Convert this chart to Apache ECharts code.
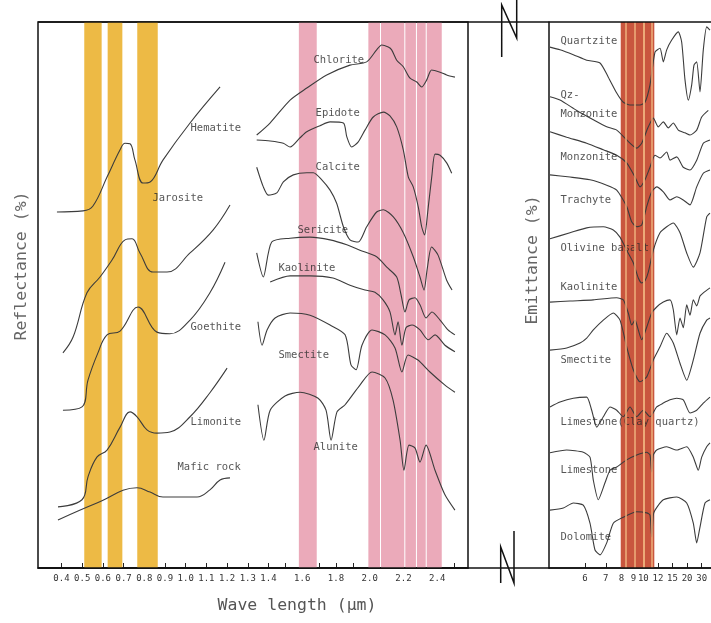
<!DOCTYPE html>
<html><head><meta charset="utf-8">
<script src="https://cdn.jsdelivr.net/npm/echarts@6/dist/echarts.min.js"></script>
<style>html,body{margin:0;padding:0;background:#fff}#c{width:711px;height:623px}</style>
</head><body><div id="c"></div>
<script>
// ---- axis ticks (µm) ----
const reflTickWl = [0.4,0.5,0.6,0.7,0.8,0.9,1.0,1.1,1.2,1.3,1.4,1.5,1.6,1.7,1.8,1.9,2.0,2.1,2.2,2.3,2.4,2.5];
const reflLabelWl = [0.4,0.5,0.6,0.7,0.8,0.9,1.0,1.1,1.2,1.3,1.4,1.6,1.8,2.0,2.2,2.4];
const emitTickWl = [6,7,8,9,10,12,15,20,30];

// ---- sensor bands (µm) ----
const yellowBands = [[0.510,0.594],[0.623,0.694],[0.766,0.865]];
const pinkBands = [[1.58,1.686],[1.992,2.061],[2.067,2.205],[2.211,2.274],[2.280,2.332],[2.338,2.427]];
const redBand = [7.95,11.44];
const redStripes = [8.35,8.97,9.64,10.40,11.06];

// ---- reflectance curves [wavelength µm, relative reflectance] ----
const hematite = [[0.378,65.2],[0.504,65.4],[0.552,66.3],[0.620,71.6],[0.683,76.6],[0.707,77.8],[0.731,77.7],[0.755,74.7],[0.794,70.5],[0.828,70.7],[0.890,74.7],[1.021,81.5],[1.166,88.1]];
const jarosite = [[0.407,39.4],[0.456,42.3],[0.523,50.4],[0.586,53.3],[0.644,56.4],[0.707,60.1],[0.741,60.3],[0.779,57.7],[0.842,54.2],[0.910,54.2],[1.021,57.7],[1.132,61.9],[1.214,66.5]];
const goethite = [[0.407,28.9],[0.499,29.5],[0.528,34.4],[0.576,39.4],[0.620,42.7],[0.683,43.4],[0.770,47.8],[0.861,43.2],[0.924,42.9],[1.021,45.4],[1.117,50.4],[1.190,56.0]];
const limonite = [[0.383,11.2],[0.499,12.5],[0.528,16.7],[0.571,20.3],[0.620,21.6],[0.683,25.8],[0.731,28.6],[0.765,27.7],[0.813,25.3],[0.861,24.7],[0.924,24.9],[1.021,27.7],[1.117,32.1],[1.200,36.6]];
const maficRock = [[0.383,8.8],[0.571,11.9],[0.765,14.7],[0.828,13.9],[0.890,13.0],[1.055,13.0],[1.117,14.3],[1.166,16.1],[1.214,16.5]];
const chlorite = [[1.343,79.3],[1.409,81.5],[1.528,85.7],[1.627,87.9],[1.745,90.3],[1.883,92.1],[1.982,92.7],[2.041,94.9],[2.071,95.8],[2.110,95.4],[2.130,94.9],[2.160,93.0],[2.199,91.8],[2.239,89.7],[2.279,89.0],[2.308,88.1],[2.338,89.4],[2.367,91.2],[2.417,90.8],[2.456,90.3],[2.505,89.9]];
const epidote = [[1.343,78.4],[1.410,78.2],[1.488,77.8],[1.528,77.1],[1.587,78.8],[1.627,79.9],[1.705,81.0],[1.765,81.7],[1.844,81.5],[1.864,79.0],[1.893,77.1],[1.931,78.0],[1.972,80.2],[2.021,82.6],[2.081,83.5],[2.120,82.8],[2.160,80.8],[2.199,76.6],[2.229,71.6],[2.258,69.8],[2.288,66.1],[2.308,62.5],[2.325,61.0],[2.347,66.1],[2.369,72.0],[2.387,75.8],[2.417,75.6],[2.456,74.2],[2.486,72.3]];
const calcite = [[1.343,73.4],[1.375,69.8],[1.399,68.3],[1.449,68.7],[1.488,70.7],[1.547,72.0],[1.627,72.4],[1.666,72.4],[1.716,71.1],[1.765,69.2],[1.804,66.8],[1.844,62.5],[1.883,60.1],[1.932,59.7],[1.982,62.5],[2.041,65.2],[2.081,65.6],[2.140,64.3],[2.199,61.4],[2.258,57.0],[2.298,53.3],[2.322,50.9],[2.340,54.6],[2.367,58.8],[2.405,57.3],[2.456,52.7],[2.488,50.9]];
const sericite = [[1.343,57.7],[1.375,53.3],[1.419,59.7],[1.528,60.4],[1.646,60.6],[1.765,60.1],[1.864,59.2],[1.942,58.2],[2.041,57.0],[2.101,55.1],[2.160,53.3],[2.186,50.0],[2.209,46.9],[2.233,49.1],[2.268,49.5],[2.298,48.2],[2.334,45.8],[2.369,46.9],[2.417,45.4],[2.464,43.6],[2.505,42.7]];
const kaoliniteSwir = [[1.410,52.4],[1.528,53.5],[1.646,53.5],[1.782,53.1],[1.883,51.8],[1.972,50.9],[2.031,50.5],[2.079,49.1],[2.120,46.9],[2.150,42.7],[2.168,45.1],[2.191,40.8],[2.215,44.0],[2.251,44.5],[2.298,43.6],[2.347,41.8],[2.387,42.7],[2.446,40.8],[2.505,39.6]];
const smectiteSwir = [[1.349,45.1],[1.369,40.8],[1.393,43.6],[1.439,45.8],[1.528,46.7],[1.646,46.3],[1.765,44.5],[1.854,42.7],[1.889,37.2],[1.919,36.3],[1.954,40.8],[2.014,43.6],[2.091,42.7],[2.150,40.3],[2.191,35.9],[2.227,39.0],[2.286,38.1],[2.357,35.9],[2.446,33.5],[2.505,32.2]];
const alunite = [[1.349,29.9],[1.378,23.4],[1.410,28.9],[1.498,31.5],[1.587,32.2],[1.694,31.1],[1.741,28.9],[1.771,23.4],[1.806,28.6],[1.854,29.9],[1.942,33.5],[2.014,35.9],[2.091,34.8],[2.138,30.8],[2.180,23.4],[2.203,17.9],[2.233,22.5],[2.268,22.0],[2.298,19.4],[2.334,22.5],[2.387,17.9],[2.446,13.4],[2.505,10.6]];

// ---- emittance curves [wavelength µm, relative emittance] ----
const quartzite = [[4.840,95.4],[5.123,94.9],[5.556,94.0],[6.072,93.0],[6.690,92.5],[7.143,89.9],[7.669,87.0],[8.140,85.3],[8.681,84.8],[9.637,84.8],[10.198,85.3],[10.829,88.5],[11.544,94.5],[12.359,95.2],[12.963,92.7],[13.651,94.9],[14.805,96.7],[16.667,98.2],[17.821,96.3],[19.105,89.4],[20.588,85.7],[22.379,88.5],[23.777,92.1],[25.660,92.7],[28.409,87.2],[31.818,94.9],[36.307,99.1],[42.067,98.5]];
const qzMonzonite = [[4.840,86.3],[5.123,85.7],[5.678,83.8],[6.364,82.1],[7.051,80.8],[7.669,80.2],[8.405,78.4],[9.299,76.9],[9.820,77.8],[10.606,80.8],[11.290,82.4],[12.069,80.8],[12.963,81.7],[14.0,80.6],[15.217,81.5],[16.667,80.2],[19.105,79.7],[21.446,79.3],[25.660,80.2],[30.069,82.6],[38.889,83.8]];
const monzonite = [[4.840,79.9],[5.332,78.9],[6.072,77.8],[6.863,76.6],[7.669,75.6],[8.405,74.2],[9.134,71.6],[9.637,69.8],[10.198,71.1],[10.829,73.4],[11.544,75.6],[12.359,75.1],[13.651,76.2],[14.391,74.7],[16.174,75.3],[18.421,73.4],[21.446,72.9],[25.660,74.7],[31.818,77.8],[42.067,78.4]];
const trachyte = [[4.840,72.0],[5.442,71.6],[6.214,71.1],[7.051,70.1],[7.669,69.2],[8.405,66.2],[8.829,63.4],[9.299,62.5],[9.820,62.8],[10.404,66.2],[11.062,68.9],[11.808,69.8],[12.963,68.9],[14.391,67.4],[16.174,68.0],[18.421,67.4],[21.446,66.5],[25.660,69.8],[31.818,72.3],[42.067,72.9]];
const olivineBasalt = [[4.840,60.3],[5.442,61.4],[6.072,62.3],[6.863,62.5],[7.447,61.9],[7.897,60.6],[8.405,58.2],[8.974,55.9],[9.459,53.1],[9.820,52.2],[10.198,52.6],[10.606,54.2],[11.290,58.2],[12.359,61.4],[13.651,62.5],[15.217,63.2],[17.224,61.4],[19.841,57.7],[23.333,55.1],[28.409,57.7],[36.307,64.3],[42.067,65.0]];
const kaoliniteTir = [[4.840,48.7],[5.442,48.9],[6.364,49.1],[7.669,49.5],[8.140,49.1],[8.537,46.7],[8.829,44.5],[9.134,45.4],[9.459,43.6],[9.820,41.8],[10.404,44.1],[11.062,46.7],[11.808,47.8],[12.963,48.7],[14.391,49.1],[15.217,47.3],[16.174,42.7],[17.224,45.8],[18.421,44.0],[19.841,48.2],[21.446,46.3],[23.333,49.1],[25.660,48.0],[28.409,49.8],[31.818,50.4],[42.067,51.3]];
const smectiteTir = [[4.840,39.9],[5.332,40.3],[5.802,41.2],[6.072,42.1],[6.364,43.6],[6.863,45.4],[7.447,46.7],[7.897,45.4],[8.405,40.5],[8.974,36.3],[9.637,34.1],[10.404,35.0],[11.290,38.1],[12.359,40.5],[13.651,43.0],[15.217,41.2],[17.224,37.5],[19.841,34.4],[23.333,38.1],[28.409,43.0],[36.307,45.4],[42.067,45.8]];
const limestoneClayQuartz = [[4.840,29.5],[5.123,30.4],[5.556,31.1],[6.072,31.3],[6.290,28.9],[6.525,25.8],[6.863,27.7],[7.243,29.5],[7.669,28.9],[8.140,27.7],[8.681,29.5],[9.299,27.7],[10.0,28.9],[10.829,27.7],[11.808,29.5],[12.963,30.2],[14.391,30.8],[16.174,31.1],[18.421,30.8],[21.446,28.4],[25.660,28.9],[31.818,30.2],[42.067,31.3]];
const limestone = [[4.840,21.1],[5.332,21.6],[5.932,21.2],[6.214,20.3],[6.364,16.1],[6.604,12.5],[6.955,15.6],[7.243,17.9],[7.669,18.5],[8.405,19.8],[9.299,20.7],[10.404,21.2],[10.829,20.7],[11.062,17.6],[11.290,20.7],[11.808,21.6],[13.651,22.2],[16.174,21.6],[19.841,22.2],[23.333,20.3],[26.923,17.9],[30.069,20.3],[36.307,22.2],[42.067,22.9]];
const dolomite = [[4.840,10.6],[5.224,11.0],[5.556,11.9],[5.932,11.5],[6.214,8.2],[6.443,3.3],[6.690,2.4],[7.051,4.6],[7.447,8.2],[8.140,9.3],[9.299,10.3],[10.404,10.1],[10.829,9.7],[11.062,5.7],[11.290,9.7],[11.544,10.6],[12.963,12.5],[16.174,13.0],[19.841,11.9],[23.333,8.2],[25.660,4.6],[28.409,7.5],[33.915,11.9],[42.067,12.5]];

// ---- curve names and label anchors [name, wavelength, value] ----
const reflLabels = [["Hematite",1.021,80.6],["Jarosite",0.837,67.8],["Goethite",1.021,44.1],["Limonite",1.021,26.6],["Mafic rock",0.958,18.5],
  ["Chlorite",1.664,93.0],["Epidote",1.676,83.3],["Calcite",1.676,73.4],["Sericite",1.569,61.9],["Kaolinite",1.456,54.9],["Smectite",1.456,39.0],["Alunite",1.664,22.2]];
const emitLabels = [["Quartzite",5.123,96.5],["Qz-\nMonzonite",5.123,84.9],["Monzonite",5.123,75.3],["Trachyte",5.123,67.4],["Olivine basalt",5.123,58.6],
  ["Kaolinite",5.123,51.5],["Smectite",5.123,38.1],["Limestone(Clay quartz)",5.123,26.6],["Limestone",5.123,17.9],["Dolomite",5.123,5.7]];

const reflCurves = [hematite,jarosite,goethite,limonite,maficRock,chlorite,epidote,calcite,sericite,kaoliniteSwir,smectiteSwir,alunite];
const emitCurves = [quartzite,qzMonzonite,monzonite,trachyte,olivineBasalt,kaoliniteTir,smectiteTir,limestoneClayQuartz,limestone,dolomite];

// piecewise wavelength scale of the reflectance panel (SWIR part compressed)
const K = 0.815;
function reflAxis(w){ return w <= 1.4 ? w : 1.4 + (w - 1.4) * K; }
function reflWl(t){ return t <= 1.4001 ? t : 1.4 + (t - 1.4) / K; }
// emittance panel is linear in wavenumber
function emitAxis(w){ return 1 / w; }

const LINE = '#3c3c3c';
const FONT = 'DejaVu Sans Mono';
const series = [];

series.push({type:'line', xAxisIndex:0, yAxisIndex:0, data:[], z:1, silent:true,
  markArea:{silent:true, itemStyle:{color:'#EDBA45'}, data: yellowBands.map(b=>[{xAxis:reflAxis(b[0])},{xAxis:reflAxis(b[1])}])}});
series.push({type:'line', xAxisIndex:0, yAxisIndex:0, data:[], z:1, silent:true,
  markArea:{silent:true, itemStyle:{color:'#EBAABA'}, data: pinkBands.map(b=>[{xAxis:reflAxis(b[0])},{xAxis:reflAxis(b[1])}])}});
series.push({type:'line', xAxisIndex:1, yAxisIndex:1, data:[], z:1, silent:true,
  markArea:{silent:true, itemStyle:{color:'#C9563E'}, data: [[{xAxis:emitAxis(redBand[0])},{xAxis:emitAxis(redBand[1])}]]},
  markLine:{silent:true, symbol:['none','none'], label:{show:false}, lineStyle:{color:'#EEB07C', width:1.5, type:'solid'},
    data: redStripes.map(w=>({xAxis:emitAxis(w)}))}});

reflCurves.forEach((c,i)=>{
  series.push({type:'line', xAxisIndex:0, yAxisIndex:0, z:3, showSymbol:false, silent:true,
    smooth: i<5 ? 0.4 : 0.25, lineStyle:{color:LINE, width:1.1},
    data: c.map(p=>[reflAxis(p[0]), p[1]])});
});
emitCurves.forEach(c=>{
  series.push({type:'line', xAxisIndex:1, yAxisIndex:1, z:3, showSymbol:false, silent:true,
    smooth:0.2, lineStyle:{color:LINE, width:1.1},
    data: c.map(p=>[emitAxis(p[0]), p[1]])});
});
const labelStyle = {show:true, position:'right', distance:0, formatter:'{b}', color:'#2a2a2a', fontFamily:FONT, fontSize:10.5, lineHeight:19};
series.push({type:'scatter', xAxisIndex:0, yAxisIndex:0, z:4, silent:true, symbolSize:1, itemStyle:{color:'rgba(0,0,0,0)'},
  label:labelStyle, data: reflLabels.map(l=>({name:l[0], value:[reflAxis(l[1]), l[2]]}))});
series.push({type:'scatter', xAxisIndex:1, yAxisIndex:1, z:4, silent:true, symbolSize:1, itemStyle:{color:'rgba(0,0,0,0)'},
  label:labelStyle, data: emitLabels.map(l=>({name:l[0], value:[emitAxis(l[1]), l[2]]}))});

const tickLabel = {color:'#333', fontFamily:FONT, fontSize:9, margin:6};
const option = {
  animation:false,
  backgroundColor:'#fff',
  grid:[
    {left:38, top:22, width:430, height:546, show:true, borderColor:'#111', borderWidth:1.5, backgroundColor:'transparent'},
    {left:549, top:22, width:162, height:546, show:false}
  ],
  xAxis:[
    {type:'value', gridIndex:0, min:0.2865, max:2.3638,
      axisLine:{show:true, onZero:false, lineStyle:{color:'#111', width:1.5}},
      axisTick:{show:true, inside:true, length:5, lineStyle:{color:'#222'}, customValues: reflTickWl.map(reflAxis)},
      axisLabel:Object.assign({customValues: reflLabelWl.map(reflAxis), formatter: v=>reflWl(v).toFixed(1)}, tickLabel),
      splitLine:{show:false}},
    {type:'value', gridIndex:1, inverse:true, min:0.02263, max:0.20777,
      axisLine:{show:true, onZero:false, lineStyle:{color:'#111', width:1.5}},
      axisTick:{show:true, inside:true, length:5, lineStyle:{color:'#222'}, customValues: emitTickWl.map(emitAxis)},
      axisLabel:Object.assign({customValues: emitTickWl.map(emitAxis), formatter: v=>String(Math.round(1/v))}, tickLabel),
      splitLine:{show:false}}
  ],
  yAxis:[
    {type:'value', gridIndex:0, min:0, max:100, show:false},
    {type:'value', gridIndex:1, min:0, max:100, axisLine:{show:true, onZero:false, lineStyle:{color:'#111', width:1.5}},
      axisTick:{show:false}, axisLabel:{show:false}, splitLine:{show:false}}
  ],
  series: series,
  graphic:[
    {type:'line', silent:true, z:10, shape:{x1:38,y1:22,x2:711,y2:22}, style:{stroke:'#111', lineWidth:1.5}},
    {type:'line', silent:true, z:10, shape:{x1:38,y1:568,x2:711,y2:568}, style:{stroke:'#111', lineWidth:1.5}},
    {type:'polyline', silent:true, z:10, shape:{points:[[501.7,57],[501.7,5],[516.7,38],[516.7,0]]}, style:{stroke:'#111', lineWidth:1.5, fill:null}},
    {type:'polyline', silent:true, z:10, shape:{points:[[500.7,583],[500.7,547],[514,583],[514,531]]}, style:{stroke:'#111', lineWidth:1.5, fill:null}},
    {type:'text', silent:true, x:297, y:606, style:{text:'Wave length (μm)', fill:'#555', font:'16.5px "DejaVu Sans Mono"', align:'center', verticalAlign:'middle'}},
    {type:'text', silent:true, x:22, y:266, rotation:Math.PI/2, style:{text:'Reflectance (%)', fill:'#666', font:'16.5px "DejaVu Sans Mono"', align:'center', verticalAlign:'middle'}},
    {type:'text', silent:true, x:533, y:260, rotation:Math.PI/2, style:{text:'Emittance (%)', fill:'#666', font:'16.5px "DejaVu Sans Mono"', align:'center', verticalAlign:'middle'}}
  ]
};
const chart = echarts.init(document.getElementById('c'), null, {renderer:'canvas'});
chart.setOption(option);
</script>
</body></html>
